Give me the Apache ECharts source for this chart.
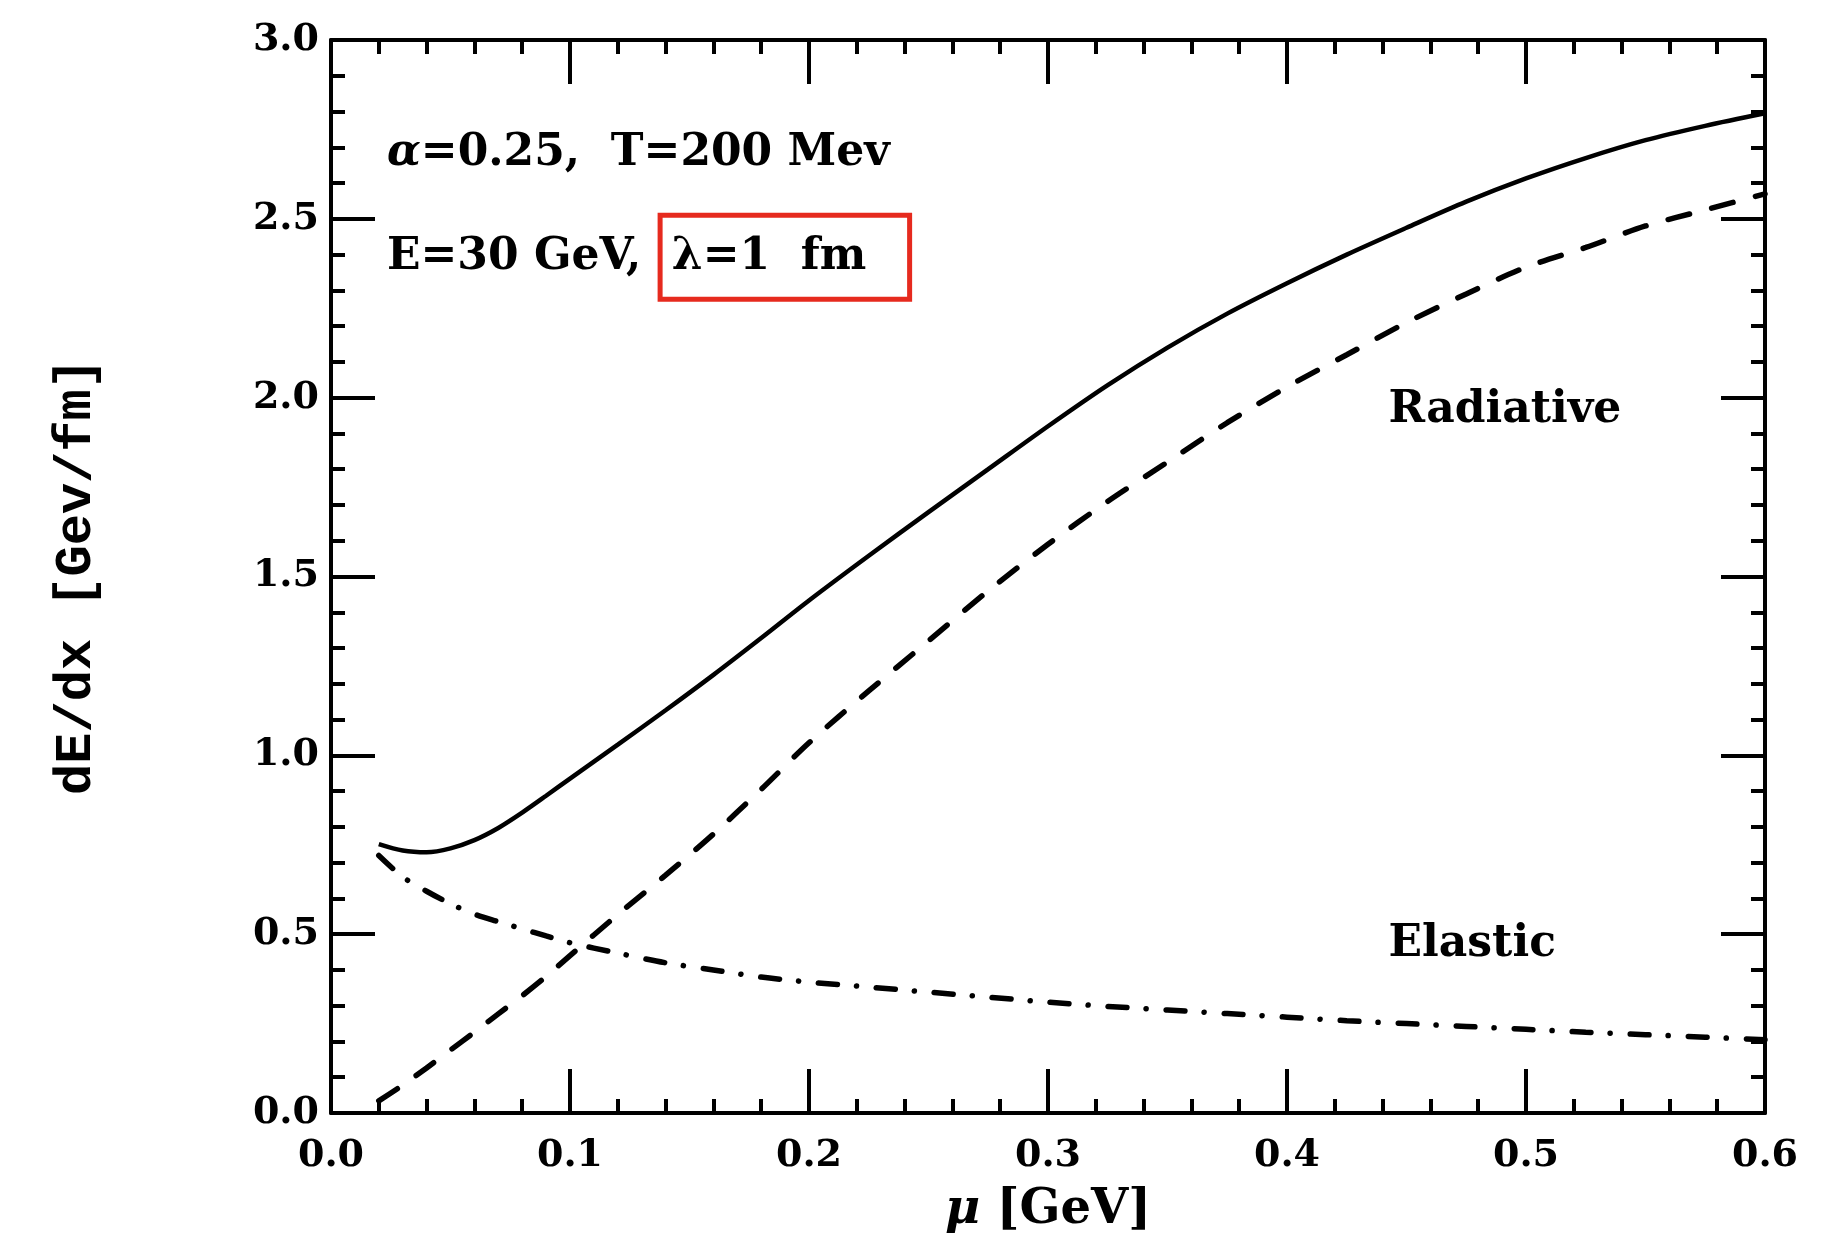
<!DOCTYPE html>
<html>
<head>
<meta charset="utf-8">
<script src="https://cdn.jsdelivr.net/npm/echarts@6/dist/echarts.min.js"></script>
<style>
html,body{margin:0;padding:0;background:#fff;}
#c{width:1845px;height:1245px;}
</style>
</head>
<body>
<div id="c"></div>
<script>
// mu [GeV]
const muValues = [0.02,0.03,0.04,0.05,0.06,0.07,0.08,0.09,0.10,0.12,0.14,0.16,0.18,0.20,0.225,0.25,0.275,0.30,0.325,0.35,0.375,0.40,0.425,0.45,0.475,0.50,0.525,0.55,0.575,0.60];
// solid curve (total)
const totalLoss = [0.752,0.734,0.729,0.740,0.763,0.797,0.840,0.887,0.935,1.03,1.126,1.225,1.328,1.433,1.558,1.68,1.80,1.92,2.035,2.14,2.235,2.32,2.40,2.475,2.548,2.613,2.67,2.72,2.76,2.795];
// dashed curve (radiative)
const radiativeLoss = [0.034,0.078,0.126,0.176,0.226,0.277,0.328,0.382,0.44,0.555,0.665,0.78,0.905,1.035,1.18,1.32,1.46,1.59,1.71,1.82,1.93,2.03,2.12,2.21,2.29,2.365,2.42,2.48,2.525,2.57];
// dash-dot curve (elastic)
const elasticLoss = [0.72,0.66,0.62,0.585,0.556,0.535,0.515,0.495,0.476,0.447,0.42,0.40,0.38,0.366,0.352,0.338,0.324,0.31,0.298,0.288,0.278,0.268,0.258,0.25,0.242,0.234,0.226,0.219,0.212,0.205];

const xTickMin = 0, xTickMax = 0.6, xTickStep = 0.1;
const yTickMin = 0, yTickMax = 3.0, yTickStep = 0.5;

// text annotations: [mu, dE/dx, text]
const annotations = [
  [0.0234, 2.682, '{it|α}=0.25,  T=200 Mev'],
  [0.0234, 2.391, 'E=30 GeV,  λ=1  fm'],
  [0.4425, 1.964, 'Radiative'],
  [0.4425, 0.470, 'Elastic']
];
// highlighted box corners [mu, dE/dx]
const boxCorner1 = [0.1377, 2.510];
const boxCorner2 = [0.2421, 2.275];

const pairs = arr => muValues.map((x, i) => [x, arr[i]]);

const serifBold = {fontFamily: 'DejaVu Serif', fontWeight: 'bold', color: '#000'};

function axisCommon(pos, showLabel) {
  const isX = pos === 'bottom' || pos === 'top';
  return {
    type: 'value',
    position: pos,
    min: isX ? xTickMin : yTickMin,
    max: isX ? xTickMax : yTickMax,
    interval: isX ? xTickStep : yTickStep,
    axisLine: {show: true, onZero: false, lineStyle: {color: '#000', width: 4}},
    axisTick: {show: true, inside: true, length: 44, lineStyle: {color: '#000', width: 4}},
    minorTick: {show: true, splitNumber: 5, length: 14, lineStyle: {color: '#000', width: 4}},
    splitLine: {show: false},
    minorSplitLine: {show: false},
    axisLabel: Object.assign({show: showLabel, fontSize: 38, formatter: v => v.toFixed(1)}, serifBold)
  };
}

const xBottom = axisCommon('bottom', true);
xBottom.axisLabel.margin = 24;
xBottom.name = '{it|μ} [GeV]';
xBottom.nameLocation = 'middle';
xBottom.nameGap = 74;
xBottom.nameTextStyle = Object.assign({fontSize: 48, rich: {it: {fontFamily: 'DejaVu Serif', fontStyle: 'italic', fontWeight: 'bold', fontSize: 48, color: '#000'}}}, serifBold);

const xTop = axisCommon('top', false);

const yLeft = axisCommon('left', true);
yLeft.axisLabel.margin = 12;
yLeft.name = 'dE/dx [Gev/fm]';
yLeft.nameLocation = 'middle';
yLeft.nameGap = 228;
yLeft.nameTextStyle = {fontFamily: 'Liberation Mono', fontWeight: 'bold', fontSize: 52, color: '#000'};

const yRight = axisCommon('right', false);

const chart = echarts.init(document.getElementById('c'), null, {renderer: 'canvas'});
chart.setOption({
  backgroundColor: '#fff',
  animation: false,
  grid: {left: 331, right: 80, top: 40, bottom: 132},
  xAxis: [xBottom, xTop],
  yAxis: [yLeft, yRight],
  series: [
    {
      type: 'line', name: 'total', data: pairs(totalLoss), showSymbol: false, smooth: 0.3,
      lineStyle: {color: '#000', width: 4.5}
    },
    {
      type: 'line', name: 'radiative', data: pairs(radiativeLoss), showSymbol: false, smooth: 0.3,
      lineStyle: {color: '#000', width: 5.5, type: [22, 23], cap: 'round'}
    },
    {
      type: 'line', name: 'elastic', data: pairs(elasticLoss), showSymbol: false, smooth: 0.3,
      lineStyle: {color: '#000', width: 5.5, type: [19, 19, 0.1, 20], cap: 'round'}
    },
    {
      type: 'scatter', name: 'notes', silent: true, symbolSize: 0,
      itemStyle: {opacity: 1},
      data: annotations.map(a => ({value: [a[0], a[1]], label: {formatter: a[2]}})),
      label: Object.assign({show: true, position: 'right', distance: 0, fontSize: 44, opacity: 1,
        rich: {it: {fontFamily: 'DejaVu Serif', fontStyle: 'italic', fontWeight: 'bold', fontSize: 44, color: '#000'}}}, serifBold),
      markArea: {
        silent: true,
        itemStyle: {color: 'rgba(0,0,0,0)', borderColor: '#e62a1e', borderWidth: 5, opacity: 1},
        data: [[{coord: boxCorner1}, {coord: boxCorner2}]]
      }
    }
  ]
});
</script>
</body>
</html>
